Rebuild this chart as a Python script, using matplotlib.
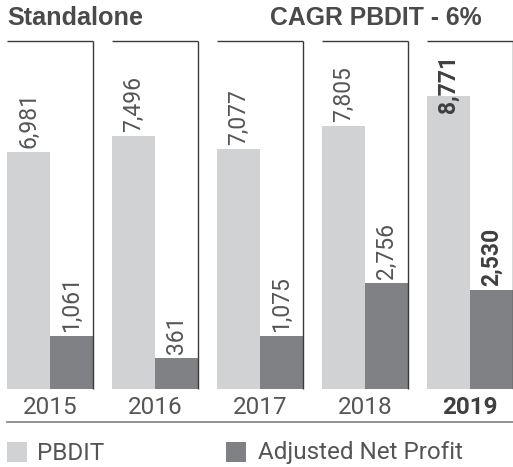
import numpy as np
import matplotlib
matplotlib.use("Agg")
import matplotlib.pyplot as plt
from matplotlib.lines import Line2D
from matplotlib.patches import Rectangle

years = ["2015", "2016", "2017", "2018", "2019"]
pbdit = [6981, 7496, 7077, 7805, 8771]
net_profit = [1061, 361, 1075, 2756, 2530]
series_names = ["PBDIT", "Adjusted Net Profit"]

LIGHT = "#d1d2d4"
DARK = "#808184"
TEXT = "#555555"
LINE = "#3a3a3a"

W, H = 513, 467
fig = plt.figure(figsize=(W / 100, H / 100), dpi=100)

# axes box in pixels: x 7..513, y 41..389 (from top)
ax = fig.add_axes([7 / W, (H - 389) / H, (W - 7) / W, (389 - 41) / H])
ax.set_xlim(-0.41, 4.41)
ax.set_ylim(-636, 10536)
for s in ax.spines.values():
    s.set_visible(False)
ax.set_yticks([])

x = np.arange(len(years))
bw = 0.41
# bars start from the bottom of the axes
ax.bar(x - bw / 2, np.array(pbdit) + 636, bw, bottom=-636, color=LIGHT, linewidth=0)
ax.bar(x + bw / 2, np.array(net_profit) + 636, bw, bottom=-636, color=DARK, linewidth=0)

# group frames: top line and right divider
bot, top = ax.get_ylim()
for i in x:
    ax.plot([i - 0.41, i + 0.41], [top, top], color=LINE, lw=1.0, clip_on=False,
            solid_capstyle="butt")
    ax.plot([i + 0.41, i + 0.41], [bot, top], color=LINE, lw=1.0, clip_on=False,
            solid_capstyle="butt")

# value labels
for i in x:
    last = i == len(x) - 1
    kw = dict(rotation=90, ha="center", va="bottom", fontsize=16.5,
              family="Roboto", textcoords="offset points",
              color="#3f3f3f" if last else TEXT,
              fontweight="bold" if last else "normal")
    off = -12 if last else 3
    ax.annotate(f"{pbdit[i]:,}", (i - bw / 2, pbdit[i]), xytext=(0, off), **kw)
    ax.annotate(f"{net_profit[i]:,}", (i + bw / 2, net_profit[i]), xytext=(0, 3), **kw)

ax.set_xticks(x)
ax.set_xticklabels(years, fontsize=17.5, family="Roboto", color=TEXT)
ax.tick_params(axis="x", length=0, pad=5)
ax.get_xticklabels()[-1].set_fontweight("bold")
ax.get_xticklabels()[-1].set_color("#3f3f3f")

# bottom rule
fig.add_artist(Line2D([7 / W, 1], [(H - 421.5) / H] * 2, color="#8a8a8a", lw=1.3))

# titles
fig.text(7 / W, (H - 18) / H, "Standalone", fontsize=18.2, fontweight="bold",
         family="Liberation Sans", color="#4a4a4a", va="center", ha="left")
fig.text(482 / W, (H - 18) / H, "CAGR PBDIT - 6%", fontsize=17.8, fontweight="bold",
         family="Liberation Sans", color="#4a4a4a", va="center", ha="right")

# legend
for (lx, tx), name, c in zip([(7, 37), (226, 258)], series_names, [LIGHT, DARK]):
    fig.add_artist(Rectangle((lx / W, (H - 462) / H), 20 / W, 20 / H,
                             transform=fig.transFigure, color=c, lw=0))
    fig.text(tx / W, (H - 453) / H, name, fontsize=17.5, family="Roboto",
             color=TEXT, va="center", ha="left")

fig.savefig("out.png", dpi=100)
